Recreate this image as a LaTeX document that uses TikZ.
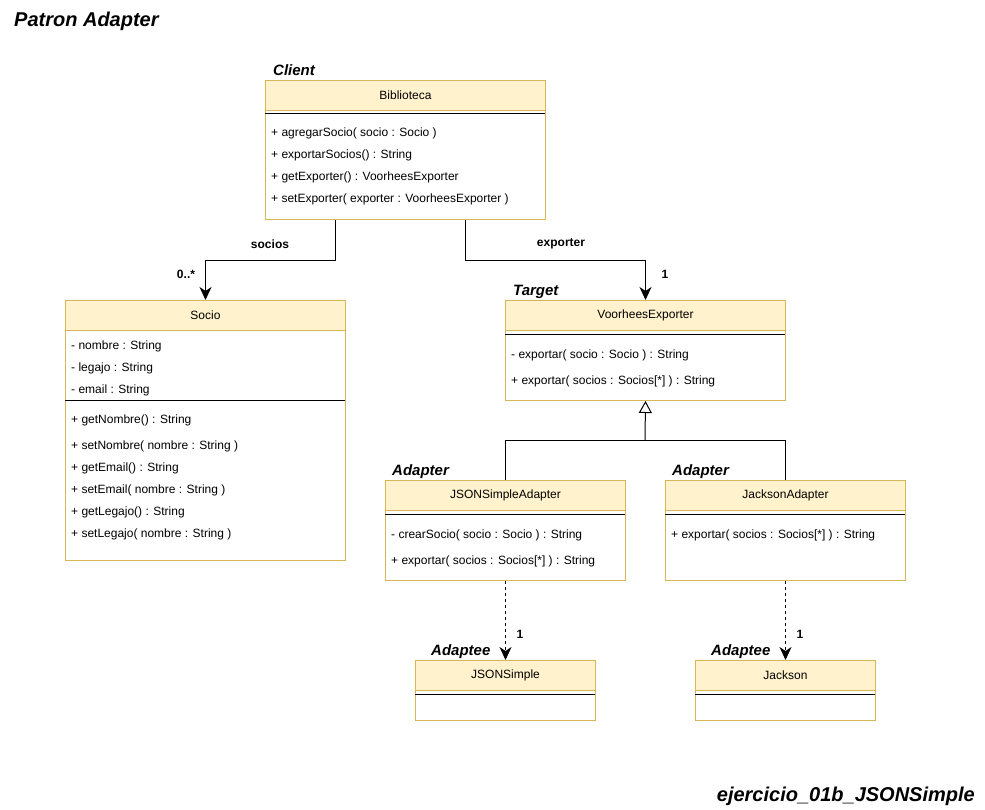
\documentclass[tikz,border=0pt]{standalone}
\usepackage{fontspec}
\setmainfont{Liberation Sans}
\usetikzlibrary{positioning,arrows.meta}
\definecolor{classfill}{HTML}{FFF2CC}
\definecolor{classline}{HTML}{D6B656}

\begin{document}
\begin{tikzpicture}[
  x=1pt, y=-1pt,
  header/.style={
        draw=classline,
        fill=classfill,
        line width=1pt,
        minimum height=30pt,
        inner sep=0pt,
        anchor=north west,
        font=\fontsize{12}{14}\selectfont
  },
  body/.style={
        draw=classline,
        fill=white,
        line width=1pt,
        inner sep=0pt,
        anchor=north west
  },
  member/.style={anchor=base west, inner sep=0pt, font=\fontsize{12}{14}\selectfont},
  role/.style={inner sep=0pt, font=\fontsize{15}{18}\selectfont\bfseries\itshape},
  mult/.style={inner sep=0pt, font=\fontsize{12}{14}\selectfont\bfseries},
  sepline/.style={line width=1pt},
  assoc/.style={line width=1pt, -{Stealth[length=13pt, width=12pt, inset=4pt]}},
  inherit/.style={line width=1pt, -{Triangle[open, length=12pt, width=13pt, fill=white]}},
  dep/.style={line width=1pt, dash pattern=on 3pt off 3pt, -{Stealth[length=13pt, width=12pt, inset=4pt]}}
]

    \useasboundingbox (0,0) rectangle (985,810);

    \node[anchor=base west, inner sep=0pt, font=\fontsize{20}{24}\selectfont\bfseries\itshape] (title) at (14,27) {Patron Adapter};
    \node[anchor=base east, inner sep=0pt, font=\fontsize{20}{24}\selectfont\bfseries\itshape] (exercise) at (975,801) {ejercicio\_01b\_JSONSimple};

    \node[body, minimum width=280pt, minimum height=109pt] (bibBody) at (265,110) {};
    \node[header, minimum width=280pt] (bib) at (265,80) {Biblioteca};
    \draw[sepline] (265,114) -- (545,114);
    \node[member] (bib_m1) at (271,137) {+ agregarSocio( socio : Socio )};
    \node[member] (bib_m2) at (271,159) {+ exportarSocios() : String};
    \node[member] (bib_m3) at (271,181) {+ getExporter() : VoorheesExporter};
    \node[member] (bib_m4) at (271,203) {+ setExporter( exporter : VoorheesExporter )};
    \node[role, above right=4.5pt and 8pt of bib.north west, anchor=base west] (clientLbl) {Client};

    \node[body, minimum width=280pt, minimum height=230pt] (socioBody) at (65,330) {};
    \node[header, minimum width=280pt] (socio) at (65,300) {Socio};
    \draw[sepline] (65,400) -- (345,400);
    \node[member] (socio_a1) at (71,349) {- nombre : String};
    \node[member] (socio_a2) at (71,371) {- legajo : String};
    \node[member] (socio_a3) at (71,393) {- email : String};
    \node[member] (socio_m1) at (71,423) {+ getNombre() : String};
    \node[member] (socio_m2) at (71,449) {+ setNombre( nombre : String )};
    \node[member] (socio_m3) at (71,471) {+ getEmail() : String};
    \node[member] (socio_m4) at (71,493) {+ setEmail( nombre : String )};
    \node[member] (socio_m5) at (71,515) {+ getLegajo() : String};
    \node[member] (socio_m6) at (71,537) {+ setLegajo( nombre : String )};

    \node[body, minimum width=280pt, minimum height=70pt] (voorBody) at (505,330) {};
    \node[header, minimum width=280pt] (voor) at (505,300) {VoorheesExporter};
    \draw[sepline] (505,334) -- (785,334);
    \node[member] (voor_m1) at (511,358) {- exportar( socio : Socio ) : String};
    \node[member] (voor_m2) at (511,384) {+ exportar( socios : Socios[*] ) : String};
    \node[role, above right=4.5pt and 8pt of voor.north west, anchor=base west] (targetLbl) {Target};

    \node[body, minimum width=240pt, minimum height=70pt] (jsaBody) at (385,510) {};
    \node[header, minimum width=240pt] (jsa) at (385,480) {JSONSimpleAdapter};
    \draw[sepline] (385,514) -- (625,514);
    \node[member] (jsa_m1) at (391,538) {- crearSocio( socio : Socio ) : String};
    \node[member] (jsa_m2) at (391,564) {+ exportar( socios : Socios[*] ) : String};
    \node[role, above right=4.5pt and 7pt of jsa.north west, anchor=base west] (jsaLbl) {Adapter};

    \node[body, minimum width=240pt, minimum height=70pt] (jaBody) at (665,510) {};
    \node[header, minimum width=240pt] (ja) at (665,480) {JacksonAdapter};
    \draw[sepline] (665,514) -- (905,514);
    \node[member] (ja_m1) at (671,538) {+ exportar( socios : Socios[*] ) : String};
    \node[role, above right=4.5pt and 7pt of ja.north west, anchor=base west] (jaLbl) {Adapter};

    \node[body, minimum width=180pt, minimum height=30pt] (jsonBody) at (415,690) {};
    \node[header, minimum width=180pt] (json) at (415,660) {JSONSimple};
    \draw[sepline] (415,694) -- (595,694);
    \node[role, above right=4.5pt and 16pt of json.north west, anchor=base west] (jsonLbl) {Adaptee};

    \node[body, minimum width=180pt, minimum height=30pt] (jackBody) at (695,690) {};
    \node[header, minimum width=180pt] (jack) at (695,660) {Jackson};
    \draw[sepline] (695,694) -- (875,694);
    \node[role, above right=4.5pt and 16pt of jack.north west, anchor=base west] (jackLbl) {Adaptee};

    \coordinate (inhJoin) at (645,440);

    \draw[assoc] ([xshift=70pt]bibBody.south west) -- ++(0,41) -| (socio.north);
    \draw[assoc] ([xshift=200pt]bibBody.south west) -- ++(0,41) -| (voor.north);
    \draw[line width=1pt] (jsa.north) |- (inhJoin);
    \draw[line width=1pt] (ja.north) |- (inhJoin);
    \draw[inherit] (inhJoin) -- (voorBody.south);
    \draw[dep] (jsaBody.south) -- (json.north);
    \draw[dep] (jaBody.south) -- (jack.north);

    \node[mult] (sociosLbl) at (270,244) {socios};
    \node[mult] (sociosMult) at (186,274) {0..*};
    \node[mult] (exporterLbl) at (561,244) {exporter};
    \node[mult] (exporterMult) at (665,274) {1};
    \node[mult] (jsonMult) at (520,634) {1};
    \node[mult] (jackMult) at (800,634) {1};
\end{tikzpicture}
\end{document}
